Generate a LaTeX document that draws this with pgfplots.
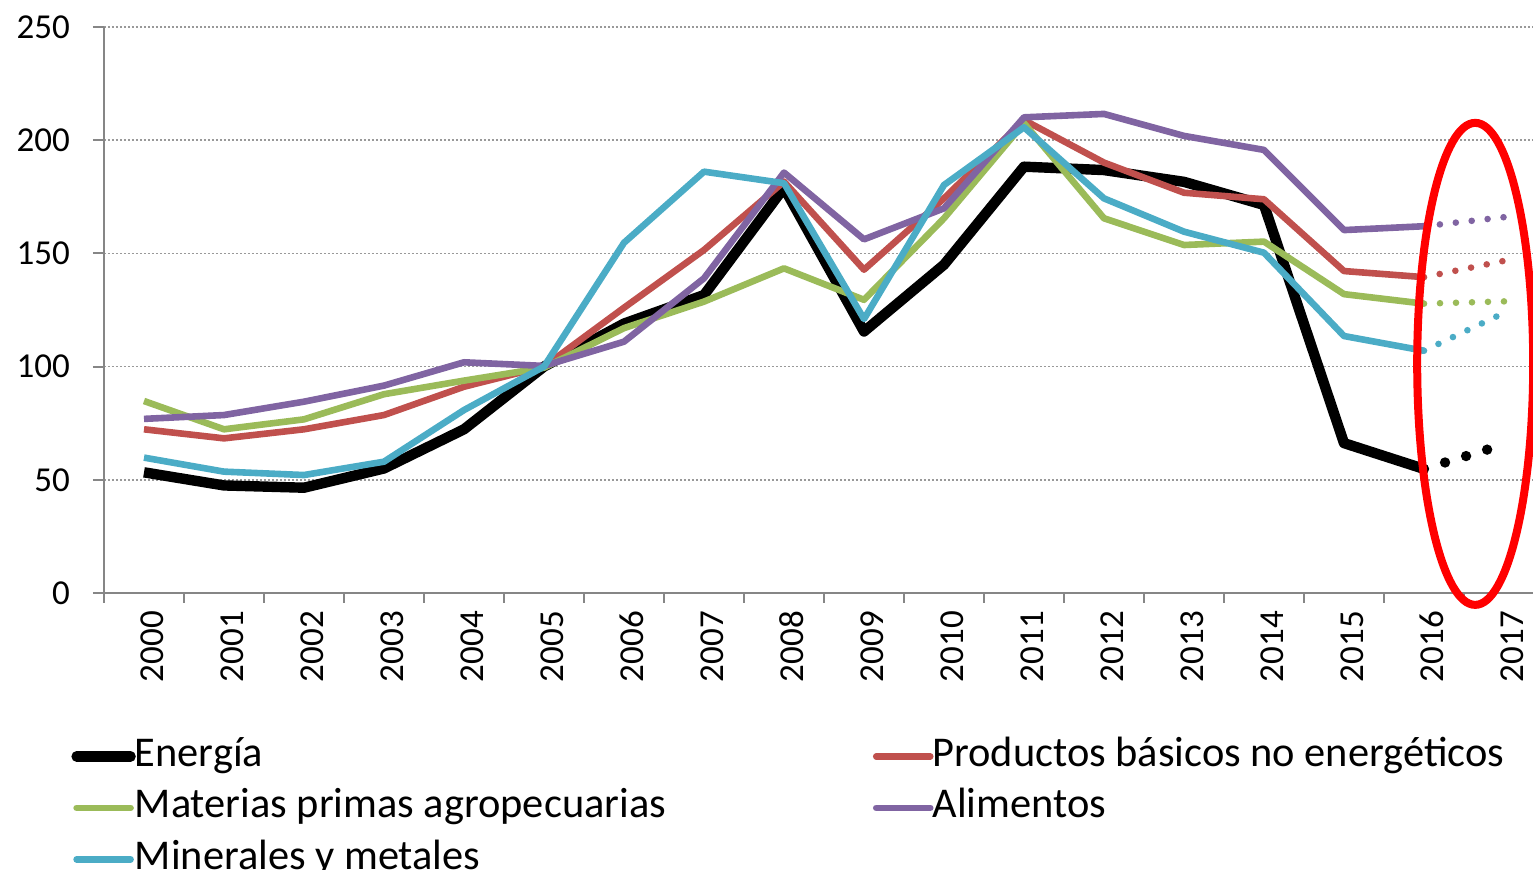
\documentclass[border=0pt]{standalone}
\usepackage{pgfplots}
\pgfplotsset{compat=1.18}
\usepackage{fontspec}
\setmainfont{Carlito}
\definecolor{cred}{HTML}{C0504D}
\definecolor{cgreen}{HTML}{9BBB59}
\definecolor{cpurple}{HTML}{8064A2}
\definecolor{cblue}{HTML}{4BACC6}
\definecolor{axgray}{HTML}{868686}
\begin{document}
\begin{tikzpicture}
\begin{axis}[
  name=ax,
  scale only axis,
  width=720pt, height=283pt,
  xmin=-0.5, xmax=17.5, ymin=0, ymax=250,
  clip=false,
  axis x line*=bottom, axis y line*=left,
  axis line style={draw=axgray, line width=1pt},
  xtick={0,...,17},
  xticklabels={2000,2001,2002,2003,2004,2005,2006,2007,2008,2009,2010,2011,2012,2013,2014,2015,2016,2017},
  minor xtick={-0.5,0.5,...,17.5},
  ytick={0,50,...,250},
  tick align=outside,
  major tick length=5.5pt,
  minor tick length=5pt,
  major x tick style={draw=none},
  minor x tick style={draw=axgray, line width=1pt},
  major y tick style={draw=axgray, line width=1pt},
  ymajorgrids,
  major grid style={draw=gray!80, line width=0.8pt, dash pattern=on 0.8pt off 1.2pt},
  /pgf/number format/assume math mode=true,
  tick label style={font=\fontsize{17.5}{17.5}\selectfont},
  xticklabel style={rotate=90, anchor=east, yshift=-4pt},
  yticklabel style={xshift=-8pt},
  legend columns=2,
  legend cell align=left,
  legend style={at={(rel axis cs:0,0)}, anchor=north west, xshift=-16.5pt, yshift=-71pt,
    draw=none, fill=none, inner sep=0pt, row sep=4.75pt,
    font=\fontsize{21.2}{24}\selectfont,
    nodes={inner sep=0.5pt, text height=15pt, text depth=5pt},
    /tikz/every odd column/.append style={column sep=-1pt},
    /tikz/every even column/.append style={column sep=103pt}},
  legend image code/.code={\draw[#1, line cap=round] (0pt,0pt) -- (27pt,0pt);},
]
\addplot[black, line width=5.2pt, line join=round] coordinates {
(0,53.3) (1,47.5) (2,46.5) (3,55) (4,72.3) (5,100) (6,119) (7,131.6) (8,179) (9,115.5)
(10,145) (11,188.3) (12,186.8) (13,181.6) (14,171.4) (15,66.2) (16,54.8)};
\addlegendentry{Energía}
\addplot[cred, line width=3.3pt, line join=round] coordinates {
(0,72.3) (1,68.3) (2,72.3) (3,78.6) (4,91.1) (5,100) (6,126) (7,151.5) (8,181.7) (9,142.8)
(10,174.3) (11,208.9) (12,190.1) (13,176.8) (14,173.9) (15,142.2) (16,139.5)};
\addlegendentry{Productos básicos no energéticos}
\addplot[cgreen, line width=3.3pt, line join=round] coordinates {
(0,84.8) (1,72.3) (2,76.7) (3,87.8) (4,93.8) (5,99.5) (6,117) (7,128.7) (8,143.4) (9,129.5)
(10,165.5) (11,207.5) (12,165.5) (13,153.7) (14,155.2) (15,132) (16,127.8)};
\addlegendentry{Materias primas agropecuarias}
\addplot[cpurple, line width=3.3pt, line join=round] coordinates {
(0,76.9) (1,78.6) (2,84.5) (3,91.6) (4,101.9) (5,100.3) (6,111) (7,139) (8,185.7) (9,156.2)
(10,169.9) (11,210.1) (12,211.6) (13,201.9) (14,195.7) (15,160.3) (16,162)};
\addlegendentry{Alimentos}
\addplot[cblue, line width=3.3pt, line join=round] coordinates {
(0,59.8) (1,53.6) (2,52.1) (3,58) (4,80.8) (5,100) (6,154.7) (7,186.1) (8,181) (9,121)
(10,180.2) (11,205.7) (12,174.3) (13,159.6) (14,150.3) (15,113.5) (16,107)};
\addlegendentry{Minerales y metales}
% projections 2016-2017 (dotted)
\addplot[forget plot, black, line width=5.2pt, line cap=round, dash pattern=on 0pt off 11pt] coordinates {(16,54.8) (17,65.6)};
\addplot[forget plot, cred, line width=3.3pt, line cap=round, dash pattern=on 0pt off 8pt] coordinates {(16,139.5) (17,146.7)};
\addplot[forget plot, cgreen, line width=3.3pt, line cap=round, dash pattern=on 0pt off 8pt] coordinates {(16,127.8) (17,128.8)};
\addplot[forget plot, cpurple, line width=3.3pt, line cap=round, dash pattern=on 0pt off 8pt] coordinates {(16,162) (17,166)};
\addplot[forget plot, cblue, line width=3.3pt, line cap=round, dash pattern=on 0pt off 8pt] coordinates {(16,107) (17,123.7)};
\draw[red, line width=4pt] (axis cs:16.64,101.2) ellipse [x radius=29pt, y radius=120.5pt];
\end{axis}
\pgfresetboundingbox
\path[use as bounding box] ([shift={(-52pt,-138.5pt)}]ax.south west) rectangle ([shift={(714.5pt,296.5pt)}]ax.south west);
\end{tikzpicture}
\end{document}
